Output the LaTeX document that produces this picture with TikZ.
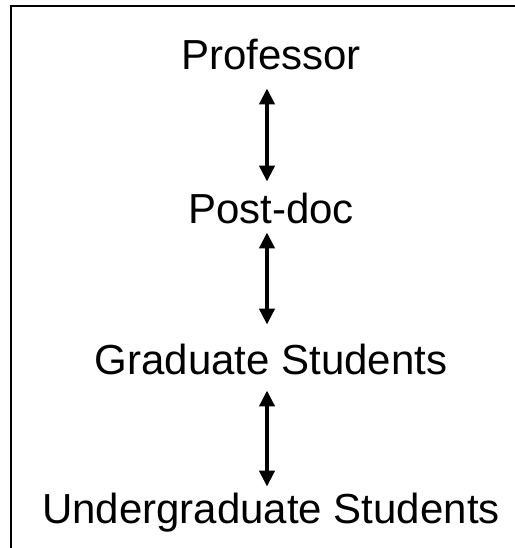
\documentclass[tikz,border=0pt]{standalone}
\usepackage{fontspec}
\setmainfont{Liberation Sans}
\usetikzlibrary{positioning}
\usetikzlibrary{arrows.meta}

\begin{document}
\begin{tikzpicture}[
        x=0.5pt, y=-0.5pt,
        rank/.style={inner sep=0pt, text height=15pt, text depth=4pt, anchor=base, font=\fontsize{21}{25}\selectfont},
        updown/.style={line width=2pt, {Triangle[width=7.5pt,length=8pt]}-{Triangle[width=7.5pt,length=8pt]}},
        frame/.style={draw=black, line width=1pt}
    ]

    \clip (0,0) rectangle (515,548);
    \draw[frame] (11,6) rectangle (540,570);

    \node[rank] (prof) at (271,69) {Professor};
    \node[rank] (postdoc) [below=77pt of prof.base, anchor=base] {Post-doc};
    \node[rank] (grad) [below=75.5pt of postdoc.base, anchor=base] {Graduate Students};
    \node[rank] (under) [below=74.5pt of grad.base, anchor=base] {Undergraduate Students};

    \draw[updown, shorten <=5.5pt, shorten >=5.5pt] ([xshift=-2pt]prof.south) -- ([xshift=-2pt]postdoc.north);
    \draw[updown, shorten <=0.5pt, shorten >=9.5pt] ([xshift=-2pt]postdoc.south) -- ([xshift=-2pt]grad.north);
    \draw[updown, shorten <=4pt, shorten >=3pt] ([xshift=-2pt]grad.south) -- ([xshift=-2pt]under.north);
\end{tikzpicture}
\end{document}
